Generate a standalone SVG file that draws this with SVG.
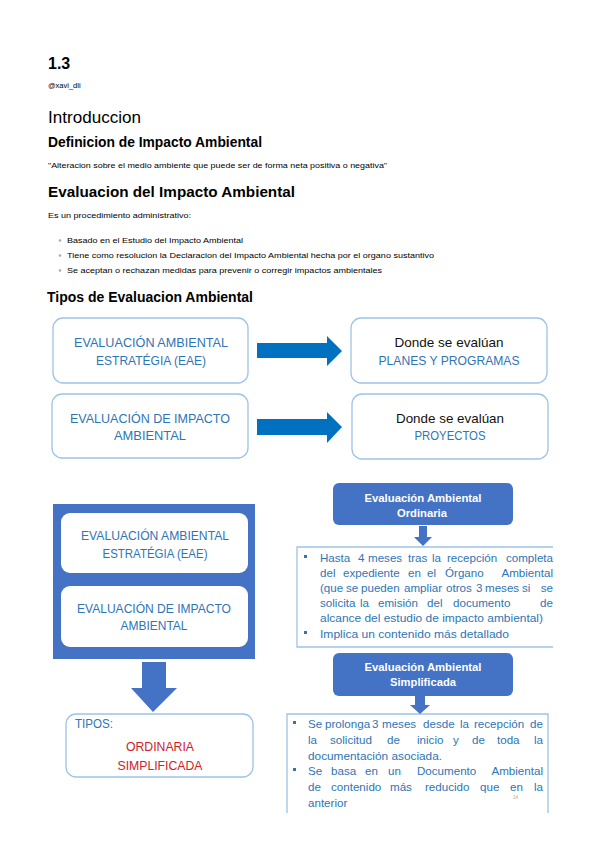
<svg xmlns="http://www.w3.org/2000/svg" width="599" height="848" viewBox="0 0 599 848">
<style>
text{font-family:"Liberation Sans",Arial,sans-serif}
.h{fill:#000}
.b{font-weight:bold}
.sm{font-size:8px;fill:#000}
.box{fill:#fff;stroke:#9DC3E6;stroke-width:1.3}
.cap{font-size:13.5px;fill:#2E75B6;text-anchor:middle}
.blk{font-size:13.5px;fill:#111;text-anchor:middle}
.wt{font-size:11.5px;fill:#fff;font-weight:bold;text-anchor:middle}
.bd{font-size:11.6px;fill:#2E75B6}
.red{font-size:13.5px;fill:#D0202A;text-anchor:middle}
.arr{fill:#0070C0}
.arr2{fill:#4472C4}
.sq{fill:#2E75B6}
</style>

<g id="header">
<text x="48" y="69" class="h b" font-size="16">1.3</text>
<text x="48" y="88" class="sm" style="font-size:7.5px">@xavi_dli</text>
<text x="48" y="123" class="h" font-size="17" textLength="93" lengthAdjust="spacingAndGlyphs">Introduccion</text>
<text x="48" y="147" class="h b" font-size="13.8" textLength="214" lengthAdjust="spacingAndGlyphs">Definicion de Impacto Ambiental</text>
<text x="48" y="168" class="sm" textLength="339" lengthAdjust="spacingAndGlyphs">"Alteracion sobre el medio ambiente que puede ser de forma neta positiva o negativa"</text>
<text x="48" y="197" class="h b" font-size="15.2" textLength="247" lengthAdjust="spacingAndGlyphs">Evaluacion del Impacto Ambiental</text>
<text x="48" y="218" class="sm" textLength="143" lengthAdjust="spacingAndGlyphs">Es un procedimiento administrativo:</text>
<circle cx="60" cy="240.5" r="1.3" fill="#aaa"/>
<text x="67" y="243" class="sm" textLength="176" lengthAdjust="spacingAndGlyphs">Basado en el Estudio del Impacto Ambiental</text>
<circle cx="60" cy="255.5" r="1.3" fill="#aaa"/>
<text x="67" y="258" class="sm" textLength="367" lengthAdjust="spacingAndGlyphs">Tiene como resolucion la Declaracion del Impacto Ambiental hecha por el organo sustantivo</text>
<circle cx="60" cy="270.5" r="1.3" fill="#aaa"/>
<text x="67" y="273" class="sm" textLength="315" lengthAdjust="spacingAndGlyphs">Se aceptan o rechazan medidas para prevenir o corregir impactos ambientales</text>
<text x="47" y="302" class="h b" font-size="14" textLength="206" lengthAdjust="spacingAndGlyphs">Tipos de Evaluacion Ambiental</text>
</g>

<g id="eae">
<rect x="53" y="318" width="195" height="65" rx="10" class="box"/>
<text x="151" y="347" class="cap" textLength="154" lengthAdjust="spacingAndGlyphs">EVALUACIÓN AMBIENTAL</text>
<text x="151" y="365" class="cap" textLength="110" lengthAdjust="spacingAndGlyphs">ESTRATÉGIA (EAE)</text>
</g>
<g id="planes">
<rect x="351" y="318" width="196" height="65" rx="10" class="box"/>
<text x="449" y="347" class="blk" textLength="109" lengthAdjust="spacingAndGlyphs">Donde se evalúan</text>
<text x="449" y="365" class="cap" textLength="141" lengthAdjust="spacingAndGlyphs">PLANES Y PROGRAMAS</text>
</g>
<g id="eia">
<rect x="52" y="394" width="196" height="64" rx="10" class="box"/>
<text x="150" y="423" class="cap" textLength="160" lengthAdjust="spacingAndGlyphs">EVALUACIÓN DE IMPACTO</text>
<text x="150" y="440" class="cap" textLength="72" lengthAdjust="spacingAndGlyphs">AMBIENTAL</text>
</g>
<g id="proyectos">
<rect x="352" y="394" width="196" height="65" rx="10" class="box"/>
<text x="450" y="423" class="blk" textLength="108" lengthAdjust="spacingAndGlyphs">Donde se evalúan</text>
<text x="450" y="440" class="cap" textLength="71" lengthAdjust="spacingAndGlyphs">PROYECTOS</text>
</g>

<g id="panel">
<rect x="53" y="504" width="202" height="155" fill="#4472C4"/>
<rect x="61" y="513" width="187" height="60" rx="9" fill="#fff"/>
<text x="155" y="540" class="cap" textLength="148" lengthAdjust="spacingAndGlyphs">EVALUACIÓN AMBIENTAL</text>
<text x="155" y="558" class="cap" textLength="105" lengthAdjust="spacingAndGlyphs">ESTRATÉGIA (EAE)</text>
<rect x="61" y="586" width="187" height="61" rx="9" fill="#fff"/>
<text x="154" y="613" class="cap" textLength="154" lengthAdjust="spacingAndGlyphs">EVALUACIÓN DE IMPACTO</text>
<text x="154" y="630" class="cap" textLength="67" lengthAdjust="spacingAndGlyphs">AMBIENTAL</text>
</g>

<g id="tipos">
<rect x="66" y="714" width="187" height="63" rx="10" class="box"/>
<text x="75" y="728" class="cap" style="text-anchor:start" textLength="38" lengthAdjust="spacingAndGlyphs">TIPOS:</text>
<text x="160" y="751" class="red" textLength="68" lengthAdjust="spacingAndGlyphs">ORDINARIA</text>
<text x="160" y="770" class="red" textLength="85" lengthAdjust="spacingAndGlyphs">SIMPLIFICADA</text>
</g>

<g id="ordinaria">
<rect x="333" y="483" width="180" height="42" rx="6" fill="#4472C4"/>
<text x="423" y="502" class="wt" textLength="117" lengthAdjust="spacingAndGlyphs">Evaluación Ambiental</text>
<text x="422" y="517" class="wt" textLength="50" lengthAdjust="spacingAndGlyphs">Ordinaria</text>
</g>

<g id="ordinaria-texto">
<path d="M553,547 H297 V647 H553" fill="none" stroke="#9DC3E6" stroke-width="1.3"/>
<rect x="304" y="555" width="3" height="3" class="sq"/>
<text y="562" class="bd"><tspan x="320">Hasta</tspan><tspan x="358">4</tspan><tspan x="368">meses</tspan><tspan x="408">tras</tspan><tspan x="432">la</tspan><tspan x="447">recepción</tspan></text>
<text x="553" y="562" class="bd" text-anchor="end">completa</text>
<text y="577" class="bd"><tspan x="320">del</tspan><tspan x="343">expediente</tspan><tspan x="408">en</tspan><tspan x="427">el</tspan><tspan x="445">Órgano</tspan></text>
<text x="553" y="577" class="bd" text-anchor="end">Ambiental</text>
<text y="592" class="bd"><tspan x="320">(que</tspan><tspan x="346">se</tspan><tspan x="361">pueden</tspan><tspan x="404">ampliar</tspan><tspan x="446">otros</tspan><tspan x="476">3</tspan><tspan x="485">meses</tspan><tspan x="522">si</tspan></text>
<text x="553" y="592" class="bd" text-anchor="end">se</text>
<text y="607" class="bd"><tspan x="320">solicita</tspan><tspan x="360">la</tspan><tspan x="378">emisión</tspan><tspan x="427">del</tspan><tspan x="453">documento</tspan></text>
<text x="553" y="607" class="bd" text-anchor="end">de</text>
<text x="320" y="622" class="bd" textLength="223" lengthAdjust="spacingAndGlyphs">alcance del estudio de impacto ambiental)</text>
<rect x="304" y="631" width="3" height="3" class="sq"/>
<text x="320" y="638" class="bd" textLength="189" lengthAdjust="spacingAndGlyphs">Implica un contenido más detallado</text>
</g>

<g id="simplificada">
<rect x="333" y="653" width="180" height="43" rx="6" fill="#4472C4"/>
<text x="423" y="671" class="wt" textLength="117" lengthAdjust="spacingAndGlyphs">Evaluación Ambiental</text>
<text x="423" y="686" class="wt" textLength="66" lengthAdjust="spacingAndGlyphs">Simplificada</text>
</g>

<g id="simplificada-texto">
<path d="M287,813 V714 H548 V813" fill="none" stroke="#9DC3E6" stroke-width="1.3"/>
<rect x="293" y="721" width="3" height="3" class="sq"/>
<text y="728" class="bd"><tspan x="308">Se</tspan><tspan x="325">prolonga</tspan><tspan x="372">3</tspan><tspan x="382">meses</tspan><tspan x="423">desde</tspan><tspan x="460">la</tspan><tspan x="474">recepción</tspan></text>
<text x="543" y="728" class="bd" text-anchor="end">de</text>
<text y="744" class="bd"><tspan x="308">la</tspan><tspan x="330">solicitud</tspan><tspan x="387">de</tspan><tspan x="417">inicio</tspan><tspan x="453">y</tspan><tspan x="472">de</tspan><tspan x="497">toda</tspan></text>
<text x="543" y="744" class="bd" text-anchor="end">la</text>
<text x="308" y="760" class="bd" textLength="134" lengthAdjust="spacingAndGlyphs">documentación asociada.</text>
<rect x="293" y="768" width="3" height="3" class="sq"/>
<text y="775" class="bd"><tspan x="308">Se</tspan><tspan x="331">basa</tspan><tspan x="365">en</tspan><tspan x="388">un</tspan><tspan x="417">Documento</tspan></text>
<text x="543" y="775" class="bd" text-anchor="end">Ambiental</text>
<text y="791" class="bd"><tspan x="308">de</tspan><tspan x="331">contenido</tspan><tspan x="390">más</tspan><tspan x="425">reducido</tspan><tspan x="480">que</tspan><tspan x="510">en</tspan></text>
<text x="543" y="791" class="bd" text-anchor="end">la</text>
<text x="308" y="807" class="bd">anterior</text>
<text x="513" y="799" font-size="4.5" fill="#C8A060">14</text>
</g>

<g id="connectors">
<polygon class="arr" points="257,343 327,343 327,336 342,351 327,366 327,358 257,358"/>
<polygon class="arr" points="257,419 327,419 327,412 342,427 327,443 327,435 257,435"/>
<polygon class="arr2" points="142,662 166,662 166,688 177,688 153,712 131,688 142,688"/>
<polygon class="arr2" points="419,526 427,526 427,537 432,537 423,546 414,537 419,537"/>
<polygon class="arr2" points="415,696 425,696 425,705 430,705 420,714 410,705 415,705"/>
</g>
</svg>
